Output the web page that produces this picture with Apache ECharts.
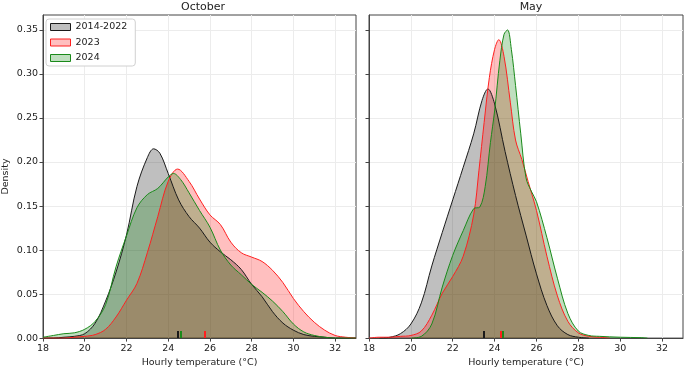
<!DOCTYPE html>
<html>
<head>
<meta charset="utf-8">
<script src="https://cdn.jsdelivr.net/npm/echarts@6/dist/echarts.min.js"></script>
<style>
  html, body { margin: 0; padding: 0; background: #fff; }
  #chart { width: 685px; height: 373px; }
</style>
</head>
<body>
<div id="chart"></div>
<script>
  // density curves, [temperature, density]
  var octHist = [[18,0],[18.5,0],[19,0.001],[19.5,0.002],[20,0.005],[20.5,0.017],[21,0.042],[21.5,0.075],[22,0.117],[22.5,0.172],[23,0.205],[23.3,0.215],[23.6,0.21],[24,0.187],[24.5,0.157],[25,0.138],[25.5,0.125],[26,0.109],[26.5,0.098],[27,0.089],[27.5,0.078],[28,0.061],[28.5,0.047],[29,0.03],[29.5,0.017],[30,0.009],[30.5,0.004],[31,0.002],[31.5,0.001],[32,0],[33,0]];
  var oct2023 = [[18,0],[19,0],[19.5,0.001],[20,0.002],[20.5,0.004],[21,0.01],[21.5,0.024],[22,0.043],[22.5,0.062],[23,0.097],[23.5,0.138],[24,0.178],[24.45,0.192],[25,0.178],[25.5,0.158],[26,0.14],[26.5,0.129],[27,0.109],[27.5,0.097],[28,0.092],[28.5,0.087],[29,0.077],[29.5,0.063],[30,0.045],[30.5,0.03],[31,0.018],[31.5,0.009],[32,0.003],[32.5,0.001],[33,0]];
  var oct2024 = [[18,0.001],[18.5,0.003],[19,0.005],[19.5,0.006],[20,0.01],[20.5,0.019],[21,0.038],[21.5,0.081],[22,0.116],[22.5,0.148],[23,0.163],[23.5,0.17],[24,0.183],[24.25,0.187],[24.6,0.18],[25,0.165],[25.5,0.145],[26,0.126],[26.5,0.1],[27,0.083],[27.5,0.072],[28,0.061],[28.5,0.052],[29,0.042],[29.5,0.03],[30,0.016],[30.5,0.007],[31,0.003],[31.5,0.001],[32,0],[33,0]];

  var mayHist = [[18.5,0],[19,0.001],[19.5,0.005],[20,0.016],[20.5,0.04],[21,0.082],[21.5,0.12],[22,0.157],[22.5,0.194],[23,0.232],[23.4,0.27],[23.68,0.283],[24,0.266],[24.5,0.212],[25,0.162],[25.5,0.117],[26,0.073],[26.5,0.037],[27,0.014],[27.5,0.004],[28,0.001],[28.5,0]];
  var may2023 = [[18,0],[18.5,0.001],[19,0.001],[19.5,0.002],[20,0.003],[20.5,0.008],[21,0.026],[21.5,0.051],[22,0.07],[22.5,0.093],[23,0.14],[23.25,0.19],[23.5,0.245],[23.75,0.296],[24,0.328],[24.2,0.339],[24.45,0.32],[24.75,0.268],[25,0.225],[25.3,0.203],[25.6,0.178],[26,0.145],[26.5,0.093],[27,0.048],[27.5,0.019],[28,0.006],[28.5,0.002],[29,0.001],[29.5,0]];
  var may2024 = [[20,0],[20.5,0.002],[21,0.016],[21.5,0.058],[22,0.094],[22.5,0.122],[23,0.147],[23.3,0.149],[23.55,0.172],[23.8,0.222],[24,0.258],[24.25,0.315],[24.45,0.345],[24.62,0.35],[24.8,0.328],[25,0.287],[25.25,0.232],[25.5,0.182],[25.75,0.167],[26,0.155],[26.5,0.114],[27,0.068],[27.5,0.028],[28,0.008],[28.5,0.003],[29,0.002],[30,0.001],[31,0.0005],[31.3,0]];

  // mean markers along the bottom
  var octMeans = [24.48, 25.75, 24.58];
  var mayMeans = [23.47, 24.27, 24.4];

  var names = ['2014-2022', '2023', '2024'];
  var lineColors = ['#1a1a1a', '#ff2020', '#1a8a1a'];
  var fillColors = ['#000000', '#ff0000', '#008000'];
  var xTicks = [18, 20, 22, 24, 26, 28, 30, 32];
  var yTicks = [0, 0.05, 0.10, 0.15, 0.20, 0.25, 0.30, 0.35];

  var chart = echarts.init(document.getElementById('chart'));
  var font = 'DejaVu Sans';

  function xAxis(idx) {
    return {
      type: 'value', gridIndex: idx, min: 18, max: 33,
      name: 'Hourly temperature (°C)', nameLocation: 'middle', nameGap: 19,
      nameTextStyle: {fontFamily: font, fontSize: 9.5, color: '#222'},
      axisLine: {show: true, lineStyle: {color: '#444'}},
      axisTick: {show: true, length: 3.5, customValues: xTicks, lineStyle: {color: '#444'}},
      axisLabel: {customValues: xTicks, fontFamily: font, fontSize: 9.5, color: '#222', margin: 5},
      splitLine: {show: true, lineStyle: {color: '#ececec'}}
    };
  }
  function yAxis(idx) {
    return {
      type: 'value', gridIndex: idx, min: 0, max: 0.367,
      name: idx === 0 ? 'Density' : '', nameLocation: 'middle', nameGap: 32,
      nameTextStyle: {fontFamily: font, fontSize: 9.5, color: '#222'},
      axisLine: {show: true, lineStyle: {color: '#444'}},
      axisTick: {show: true, length: 3.5, customValues: yTicks, lineStyle: {color: '#444'}},
      axisLabel: {show: idx === 0, customValues: yTicks, fontFamily: font, fontSize: 9.5, color: '#222', margin: 5,
        formatter: function (v) { return v.toFixed(2); }},
      splitLine: {show: true, lineStyle: {color: '#ececec'}}
    };
  }

  function curve(name, data, k, idx, mean) {
    return {
      name: name, type: 'line', xAxisIndex: idx, yAxisIndex: idx,
      data: data, smooth: 0.35, showSymbol: false,
      lineStyle: {color: lineColors[k], width: 1},
      itemStyle: {color: lineColors[k]},
      areaStyle: {color: fillColors[k], opacity: 0.25},
      markLine: {
        silent: true, symbol: 'none', label: {show: false},
        lineStyle: {color: lineColors[k], width: 2, type: 'solid'},
        data: [[{coord: [mean, 0]}, {coord: [mean, 0.008]}]]
      }
    };
  }

  var series = [];
  var oct = [octHist, oct2023, oct2024];
  var may = [mayHist, may2023, may2024];
  for (var k = 0; k < 3; k++) series.push(curve(names[k], oct[k], k, 0, octMeans[k]));
  for (var k = 0; k < 3; k++) series.push(curve(names[k], may[k], k, 1, mayMeans[k]));

  chart.setOption({
    animation: false,
    title: [
      {text: 'October', left: 198, top: -3, textAlign: 'center', textStyle: {fontFamily: font, fontSize: 11, fontWeight: 'normal', color: '#222'}},
      {text: 'May', left: 526, top: -3, textAlign: 'center', textStyle: {fontFamily: font, fontSize: 11, fontWeight: 'normal', color: '#222'}}
    ],
    grid: [
      {left: 41, top: 15, width: 315, height: 328, show: true, borderColor: '#444', borderWidth: 1, backgroundColor: 'transparent'},
      {left: 369, top: 15, width: 314, height: 328, show: true, borderColor: '#444', borderWidth: 1, backgroundColor: 'transparent'}
    ],
    legend: {
      left: 46, top: 19, orient: 'vertical', icon: 'rect',
      itemWidth: 20, itemHeight: 7, itemGap: 5.5,
      padding: [3, 8, 3, 4],
      backgroundColor: '#fff', borderColor: '#d0d0d0', borderWidth: 1, borderRadius: 3,
      textStyle: {fontFamily: font, fontSize: 9.5, color: '#222'},
      data: names.map(function (n, k) {
        return {name: n, itemStyle: {color: echarts.color.modifyAlpha(fillColors[k], 0.25), borderColor: lineColors[k], borderWidth: 1}};
      })
    },
    xAxis: [xAxis(0), xAxis(1)],
    yAxis: [yAxis(0), yAxis(1)],
    series: series
  });
</script>
</body>
</html>
